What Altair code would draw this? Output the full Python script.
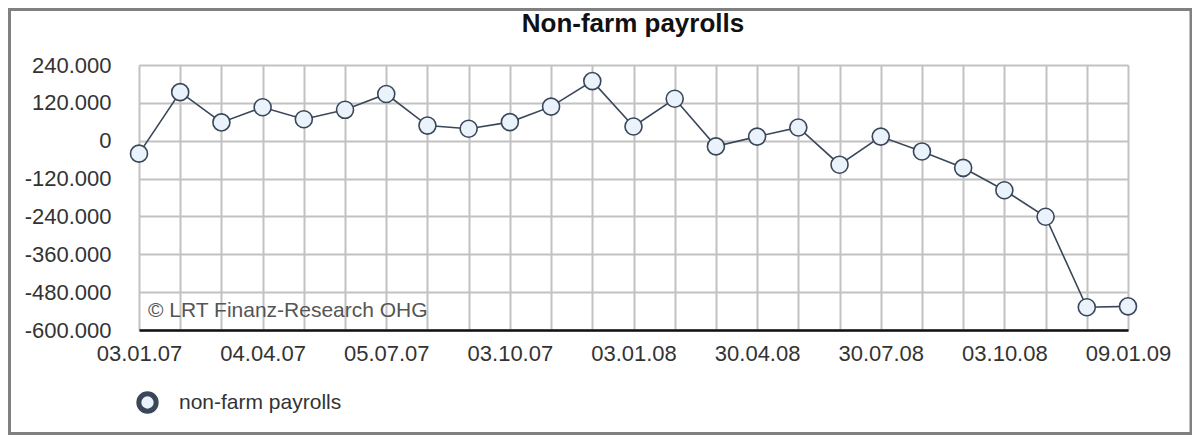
import altair as alt
import pandas as pd

# ---- data ----
series_name = "non-farm payrolls"
index = list(range(25))
payrolls = [-41000, 154000, 58000, 106000, 68000, 98000, 148000, 48000, 38000, 59000,
            108000, 189000, 45000, 133000, -18000, 13000, 42000, -76000, 13000, -34000,
            -86000, -157000, -241000, -528000, -525000]
tick_positions = [0, 3, 6, 9, 12, 15, 18, 21, 24]
tick_labels = ["03.01.07", "04.04.07", "05.07.07", "03.10.07", "03.01.08",
               "30.04.08", "30.07.08", "03.10.08", "09.01.09"]
y_ticks = [-600000, -480000, -360000, -240000, -120000, 0, 120000, 240000]
title_text = "Non-farm payrolls"
copyright_text = "© LRT Finanz-Research OHG"

df = pd.DataFrame({"i": index, "v": payrolls, "series": [series_name] * len(index)})

FONT = "Liberation Sans"
LINE = "#3a4759"

label_arr = "[" + ",".join("'%s'" % s for s in tick_labels) + "]"
x_label_expr = f"datum.value % 3 == 0 ? {label_arr}[datum.value / 3] : ''"
y_label_expr = ("replace(replace(format(datum.value, ','), regexp(',', 'g'), '.'), "
                "regexp('\u2212', 'g'), '-')")

x_enc = alt.X("i:Q",
              scale=alt.Scale(domain=[0, 24], nice=False, zero=False),
              axis=alt.Axis(values=index, labelExpr=x_label_expr, title=None,
                            grid=True, gridColor="#c2c2c2", gridWidth=2,
                            domain=True, domainColor="#111111", domainWidth=2.5,
                            ticks=False, labelFont=FONT, labelFontSize=22,
                            labelColor="#333333", labelPadding=13,
                            labelOverlap=False, labelFlush=False))
y_enc = alt.Y("v:Q",
              scale=alt.Scale(domain=[-600000, 240000], nice=False, zero=False),
              axis=alt.Axis(values=y_ticks, title=None, labelExpr=y_label_expr,
                            grid=True, gridColor="#c2c2c2", gridWidth=2,
                            domain=False, ticks=False, labelFont=FONT,
                            labelFontSize=22, labelColor="#333333", labelPadding=28))

line = alt.Chart(df).mark_line(color=LINE, strokeWidth=1.6).encode(x=x_enc, y=y_enc)

points = alt.Chart(df).mark_point(shape="circle", filled=False, fill="#eaf3fb",
                                  fillOpacity=1, strokeWidth=1.6, size=290, opacity=1).encode(
    x=x_enc, y=y_enc,
    stroke=alt.Stroke("series:N", scale=alt.Scale(range=[LINE]),
                      legend=alt.Legend(title=None, orient="none", legendX=-3, legendY=326,
                                        padding=0, symbolType="circle", symbolSize=300,
                                        symbolStrokeWidth=5, symbolStrokeColor="#1d3a63",
                                        symbolFillColor="#eaf3fb", labelFont=FONT,
                                        labelFontSize=21, labelColor="#333333",
                                        labelOffset=20, labelLimit=400)))

copyright = alt.Chart(pd.DataFrame({"t": [copyright_text]})).mark_text(
    align="left", baseline="alphabetic", font=FONT, fontSize=21, color="#555555").encode(
    text="t:N", x=alt.value(9), y=alt.value(252))

title = alt.Chart(pd.DataFrame({"t": [title_text]})).mark_text(
    align="center", baseline="alphabetic", font=FONT, fontSize=26, fontWeight="bold",
    color="#111111").encode(text="t:N", x=alt.value(494), y=alt.value(-33))

frame = alt.Chart(pd.DataFrame({"f": [0]})).mark_rect(
    fill=None, fillOpacity=0, stroke="#808080", strokeWidth=3).encode(
    x=alt.value(-129.5), x2=alt.value(1052), y=alt.value(-55.5), y2=alt.value(368.5))

chart = alt.layer(frame, line, points, copyright, title).properties(
    width=989, height=265,
    autosize=alt.AutoSizeParams(type="none"),
    padding={"left": 131, "top": 57, "right": 64, "bottom": 105},
).configure_view(stroke=None).configure(background="white")

chart.save("out.html", embed_options={"renderer": "svg", "actions": False})
